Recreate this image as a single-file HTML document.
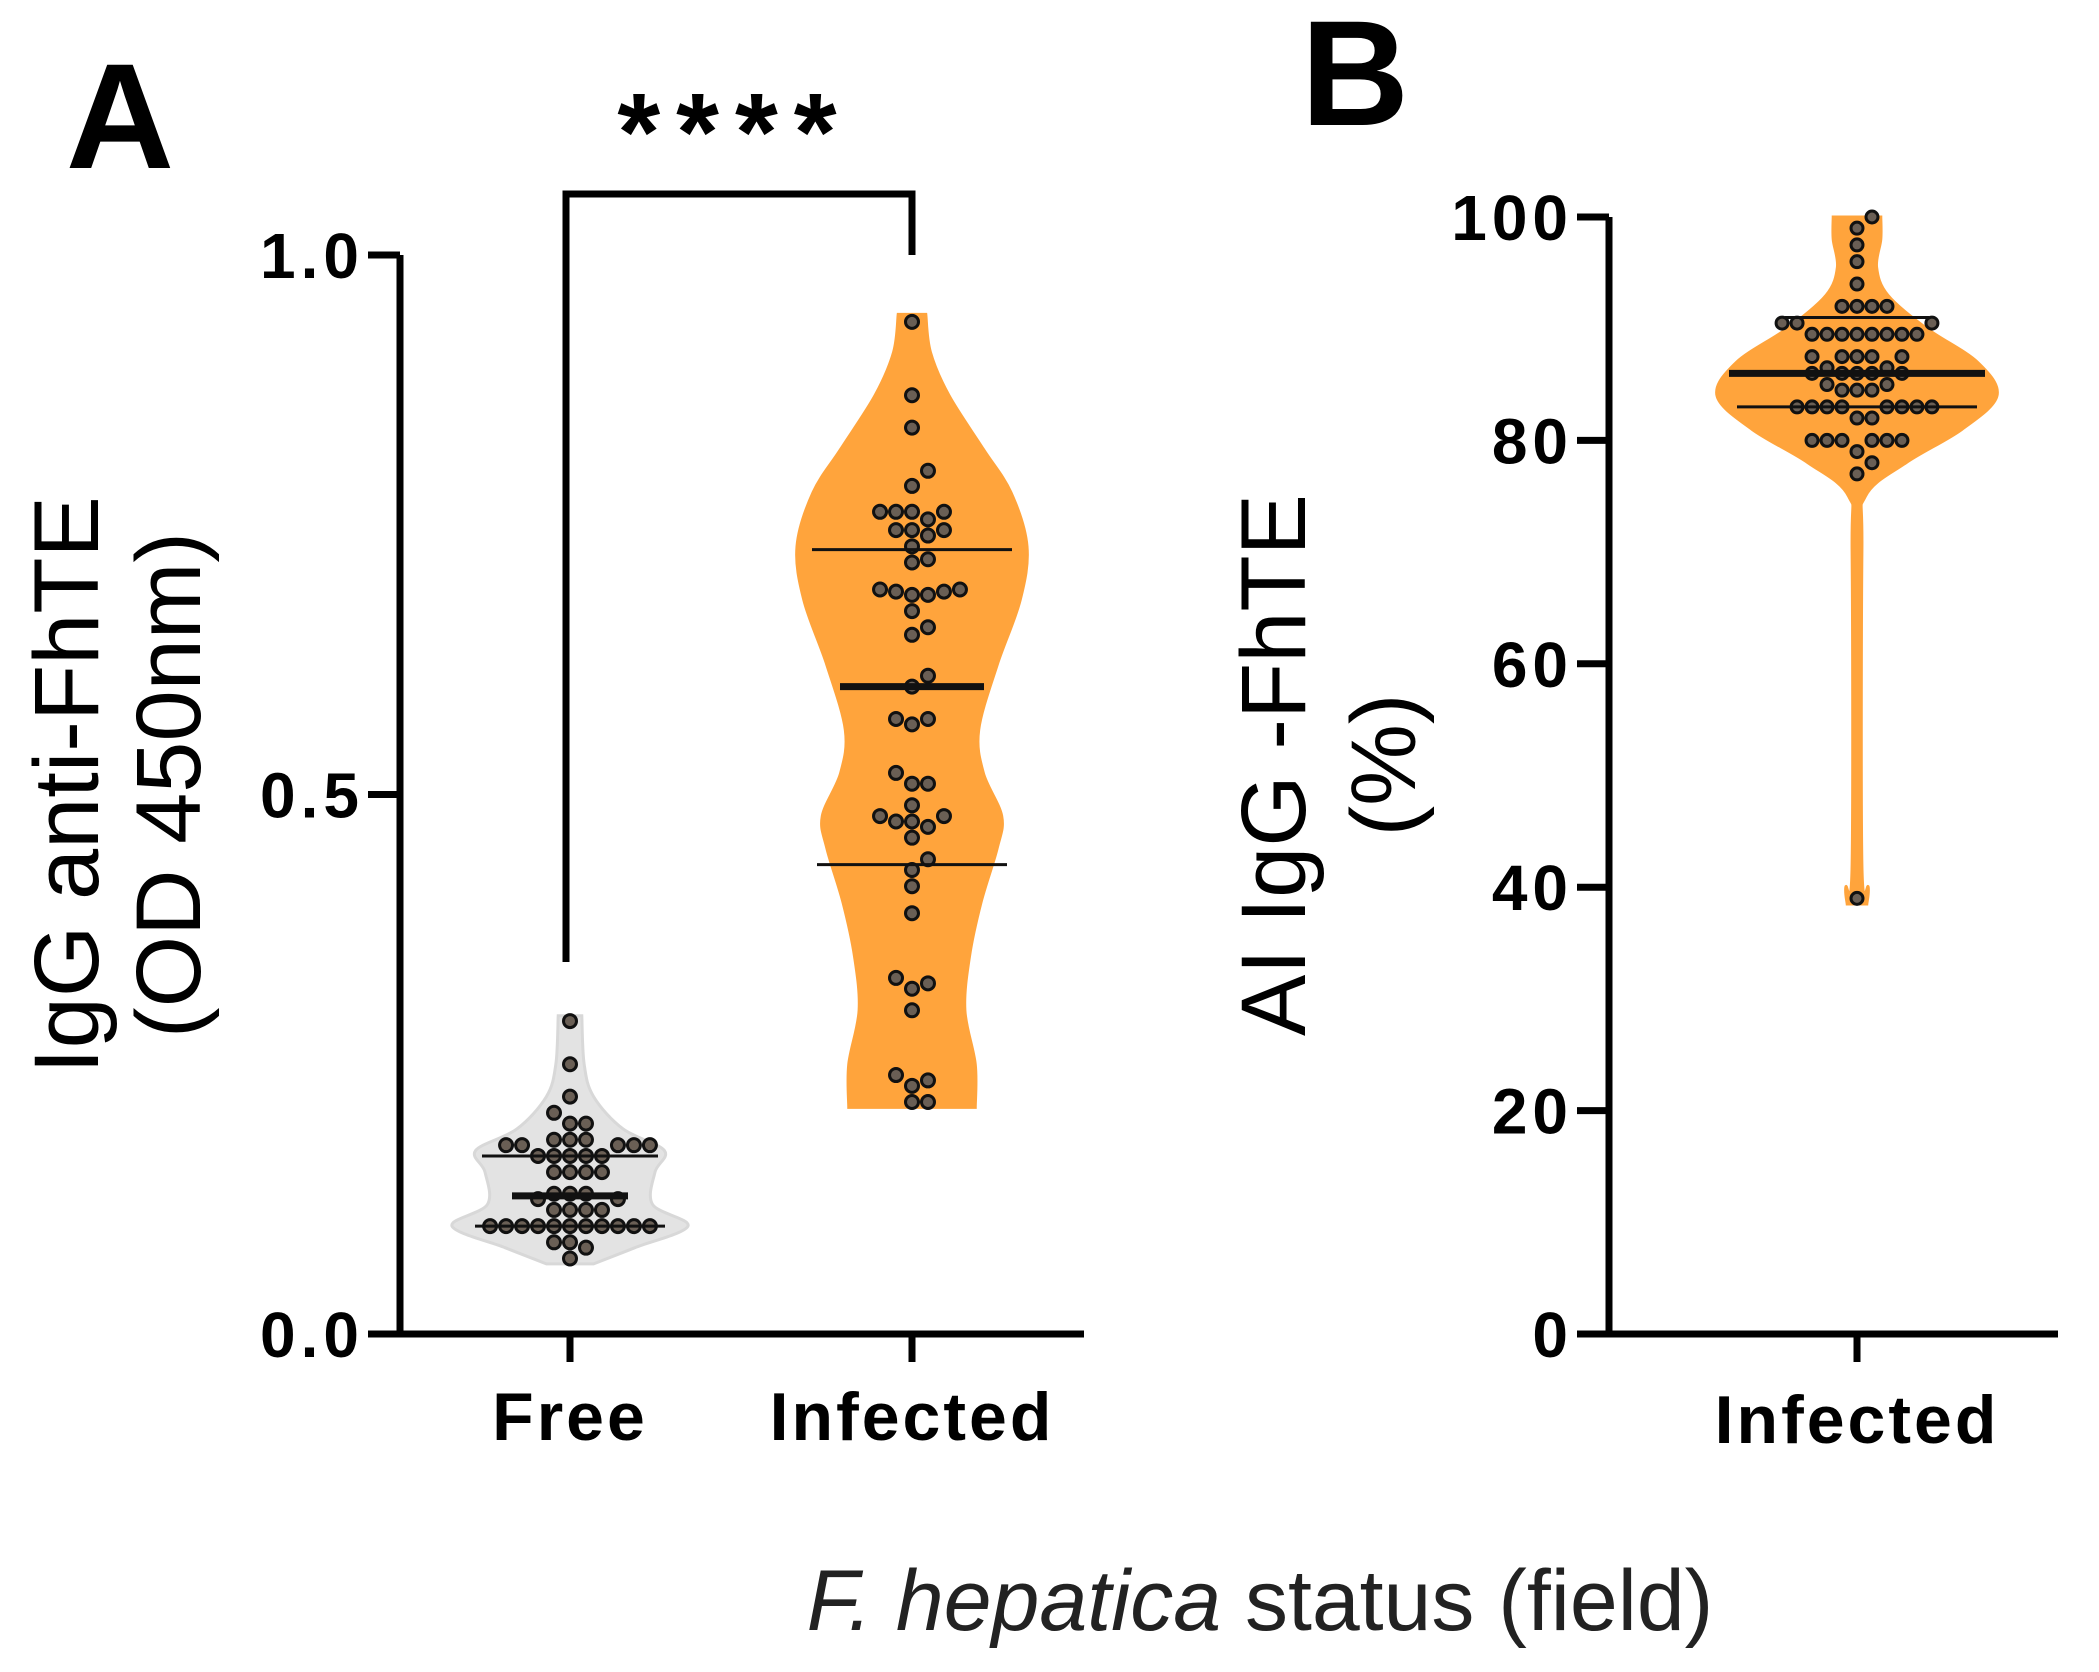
<!DOCTYPE html>
<html><head><meta charset="utf-8">
<style>
html,body{margin:0;padding:0;background:#fff;}
svg{display:block;}
text{font-family:"Liberation Sans",Arial,sans-serif;}
</style></head>
<body>
<svg id="fig" width="2099" height="1672" viewBox="0 0 2099 1672" xmlns="http://www.w3.org/2000/svg">
</svg>
<script>
// ---------- Panel A data ----------
const aTicks = [0, 0.5, 1.0];
const aTickLabels = ["0.0", "0.5", "1.0"];
const aCategories = ["Free", "Infected"];
const freeValues = [0.29,0.25,0.22,0.205,0.195,0.195,0.18,0.18,0.18,0.175,0.175,0.175,0.175,0.175,0.165,0.165,0.165,0.165,0.165,0.15,0.15,0.15,0.15,0.13,0.13,0.13,0.125,0.125,0.115,0.115,0.115,0.115,0.1,0.1,0.1,0.1,0.1,0.1,0.1,0.1,0.1,0.1,0.1,0.085,0.085,0.08,0.07];
const infValues = [0.938,0.87,0.84,0.8,0.786,0.762,0.762,0.762,0.762,0.755,0.745,0.745,0.745,0.74,0.73,0.718,0.715,0.69,0.69,0.688,0.688,0.685,0.685,0.67,0.655,0.648,0.61,0.6,0.57,0.565,0.57,0.52,0.51,0.51,0.49,0.48,0.48,0.475,0.475,0.47,0.46,0.44,0.43,0.415,0.39,0.33,0.325,0.32,0.3,0.24,0.23,0.235,0.215,0.215];
const freeStats = [0.1, 0.128, 0.165];
const infStats = [0.435, 0.6, 0.727];
const freeDensV = [0.065,0.08,0.1,0.12,0.15,0.17,0.19,0.22,0.25,0.295];
const freeDensW = [0.2,0.55,1.0,0.7,0.72,0.8,0.45,0.2,0.12,0.1];
const infDensV = [0.21,0.25,0.3,0.35,0.4,0.45,0.48,0.52,0.56,0.62,0.68,0.73,0.78,0.82,0.87,0.91,0.945];
const infDensW = [0.55,0.55,0.46,0.5,0.6,0.74,0.78,0.62,0.58,0.74,0.94,1.0,0.86,0.62,0.32,0.16,0.12];
// ---------- Panel B data ----------
const bTicks = [0,20,40,60,80,100];
const bTickLabels = ["0","20","40","60","80","100"];
const bCategories = ["Infected"];
const bValues = [100,99,97.5,96,94,92,92,92,92,90.5,90.5,90.5,89.5,89.5,89.5,89.5,89.5,89.5,89.5,89.5,87.5,87.5,87.5,87.5,87.5,86.5,86.5,86,86,86,86,86,85,85,84.5,84.5,84.5,83,83,83,83,83,83,83,83,82,82,80,80,80,80,80,80,79,78,77,39];
const bStats = [83, 86, 91];
const bDensV = [38.5,40,42,70,75,78,81,84,87,90,93,95.5,98,100];
const bDensW = [0.07,0.08,0.035,0.035,0.06,0.35,0.75,1.0,0.86,0.5,0.22,0.14,0.17,0.17];

const svg = document.getElementById('fig');
const NS = 'http://www.w3.org/2000/svg';
function el(tag, attrs, parent){const e=document.createElementNS(NS,tag);for(const k in attrs)e.setAttribute(k,attrs[k]);(parent||svg).appendChild(e);return e;}

const A = {x0:400, y0:1334, y1:255, vmax:1.0};
const aY = v => A.y0 - (v/A.vmax)*(A.y0-A.y1);
const aX = i => [570,912][i];
const B = {x0:1609, y0:1334, y1:217, vmax:100};
const bY = v => B.y0 - (v/B.vmax)*(B.y0-B.y1);
const bX = i => 1857;

function smoothPath(pts){
  let d=`M${pts[0][0]},${pts[0][1]}`;
  for(let i=0;i<pts.length-1;i++){
    const p0=pts[Math.max(0,i-1)],p1=pts[i],p2=pts[i+1],p3=pts[Math.min(pts.length-1,i+2)];
    const c1=[p1[0]+(p2[0]-p0[0])/6,p1[1]+(p2[1]-p0[1])/6];
    const c2=[p2[0]-(p3[0]-p1[0])/6,p2[1]-(p3[1]-p1[1])/6];
    d+=` C${c1[0]},${c1[1]} ${c2[0]},${c2[1]} ${p2[0]},${p2[1]}`;
  }
  return d;
}
function violin(cx, yf, dv, dw, maxHalf, fill, stroke, name){
  const right = dv.map((v,i)=>[cx+dw[i]*maxHalf, yf(v)]);
  const left = dv.map((v,i)=>[cx-dw[i]*maxHalf, yf(v)]).reverse();
  let d = smoothPath(right);
  d += ' L'+left[0][0]+','+left[0][1];
  d += smoothPath(left).replace(/^M[^C]*/,' ');
  d += ' Z';
  const p = el('path',{d:d,fill:fill,stroke:stroke,'stroke-width':3});
  
  
}
function swarm(cx, yf, values, r, name, g){
  const placed=[];
  const sorted=[...values].sort((a,b)=>a-b);
  const step = 2*r+3;
  sorted.forEach(v=>{
    const y=yf(v);
    let x=cx;
    for(let k=0;k<40;k++){
      const off = k===0?0:(k%2? Math.ceil(k/2):-Math.ceil(k/2))*step*0.999;
      const cxx = cx+off;
      if(placed.every(p=>Math.hypot(p[0]-cxx,p[1]-y)>=2*r+2.5)){x=cxx;break;}
    }
    placed.push([x,y]);
    const c=el('circle',{cx:x,cy:y,r:r,fill:'#6a5f55',stroke:'#111','stroke-width':3},g);
    
    
  });
}
function statLines(cx, yf, stats, halfs){
  stats.forEach((v,i)=>{
    const h = halfs[i];
    const l=el('line',{x1:cx-h,x2:cx+h,y1:yf(v),y2:yf(v),stroke:'#111','stroke-width':i===1?7:3});
    
    
  });
}
function txt(x,y,s,attrs,name){
  const t=el('text',Object.assign({x:x,y:y},attrs));
  t.textContent=s;
  
  
  return t;
}

// ---- Panel A ----
violin(aX(0), aY, freeDensV, freeDensW, 118, '#e3e3e3', '#d8d8d8', 'violin-free');
violin(aX(1), aY, infDensV, infDensW, 115, '#ffa43c', '#ffa43c', 'violin-infected');
const gA = el('g',{});


statLines(aX(0), aY, freeStats, [95,58,88]);
statLines(aX(1), aY, infStats, [95,72,100]);
swarm(aX(0), aY, freeValues, 6.5, 'point-free', gA);
swarm(aX(1), aY, infValues, 6.5, 'point-infected', gA);

const axA = el('path',{d:`M${A.x0},${A.y1} V${A.y0} M369,${A.y0} H1084`,stroke:'#000','stroke-width':7,fill:'none'});


aTicks.forEach((v,i)=>{
  const t=el('line',{x1:A.x0-32,x2:A.x0,y1:aY(v),y2:aY(v),stroke:'#000','stroke-width':7});
  
  
  txt(A.x0-36, aY(v)+23, aTickLabels[i], {'font-size':64,'font-weight':'bold','text-anchor':'end','letter-spacing':5}, 'y-tick-label-a');
});
aCategories.forEach((c,i)=>{
  const t=el('line',{x1:aX(i),x2:aX(i),y1:A.y0,y2:A.y0+28,stroke:'#000','stroke-width':7});
  
  
  txt(aX(i), 1440, c, {'font-size':68,'font-weight':'bold','text-anchor':'middle','letter-spacing':3}, 'x-tick-label-'+c.toLowerCase());
});
txt(0,0,'IgG anti-FhTE',{'font-size':92,'text-anchor':'middle',transform:'translate(98,785) rotate(-90)'},'y-axis-title-a');
txt(0,0,'(OD 450nm)',{'font-size':92,'text-anchor':'middle',transform:'translate(200,785) rotate(-90)'},'y-axis-subtitle-a');
const br = el('path',{d:'M566,962 V194 H912 V255',stroke:'#000','stroke-width':7,fill:'none'});


txt(735,170,'****',{'font-size':110,'font-weight':'bold','text-anchor':'middle','letter-spacing':16},'significance-stars');
txt(120,168,'A',{'font-size':150,'font-weight':'bold','text-anchor':'middle'},'panel-label-a');

// ---- Panel B ----
violin(bX(0), bY, bDensV, bDensW, 140, '#ffa43c', '#ffa43c', 'violin-b-infected');
const gB = el('g',{});


statLines(bX(0), bY, bStats, [120,128,72]);
swarm(bX(0), bY, bValues, 6, 'point-b', gB);
const axB = el('path',{d:`M${B.x0},${B.y1} V${B.y0} M1580,${B.y0} H2058`,stroke:'#000','stroke-width':7,fill:'none'});


bTicks.forEach((v,i)=>{
  const t=el('line',{x1:B.x0-32,x2:B.x0,y1:bY(v),y2:bY(v),stroke:'#000','stroke-width':7});
  
  
  txt(B.x0-36, bY(v)+23, bTickLabels[i], {'font-size':64,'font-weight':'bold','text-anchor':'end','letter-spacing':5}, 'y-tick-label-b');
});
bCategories.forEach((c,i)=>{
  const t=el('line',{x1:bX(i),x2:bX(i),y1:B.y0,y2:B.y0+28,stroke:'#000','stroke-width':7});
  
  
  txt(bX(i), 1443, c, {'font-size':68,'font-weight':'bold','text-anchor':'middle','letter-spacing':3}, 'x-tick-label-b-infected');
});
txt(0,0,'AI IgG -FhTE',{'font-size':92,'text-anchor':'middle',transform:'translate(1305,765) rotate(-90)'},'y-axis-title-b');
txt(0,0,'(%)',{'font-size':92,'text-anchor':'middle',transform:'translate(1415,765) rotate(-90)'},'y-axis-subtitle-b');
txt(1355,125,'B',{'font-size':150,'font-weight':'bold','text-anchor':'middle'},'panel-label-b');

const xt = el('text',{x:1260,y:1630,'font-size':86,'text-anchor':'middle',fill:'#222'});


const ts1 = el('tspan',{'font-style':'italic'},xt); ts1.textContent='F. hepatica';
const ts2 = el('tspan',{},xt); ts2.textContent=' status (field)';
</script>
</body></html>
